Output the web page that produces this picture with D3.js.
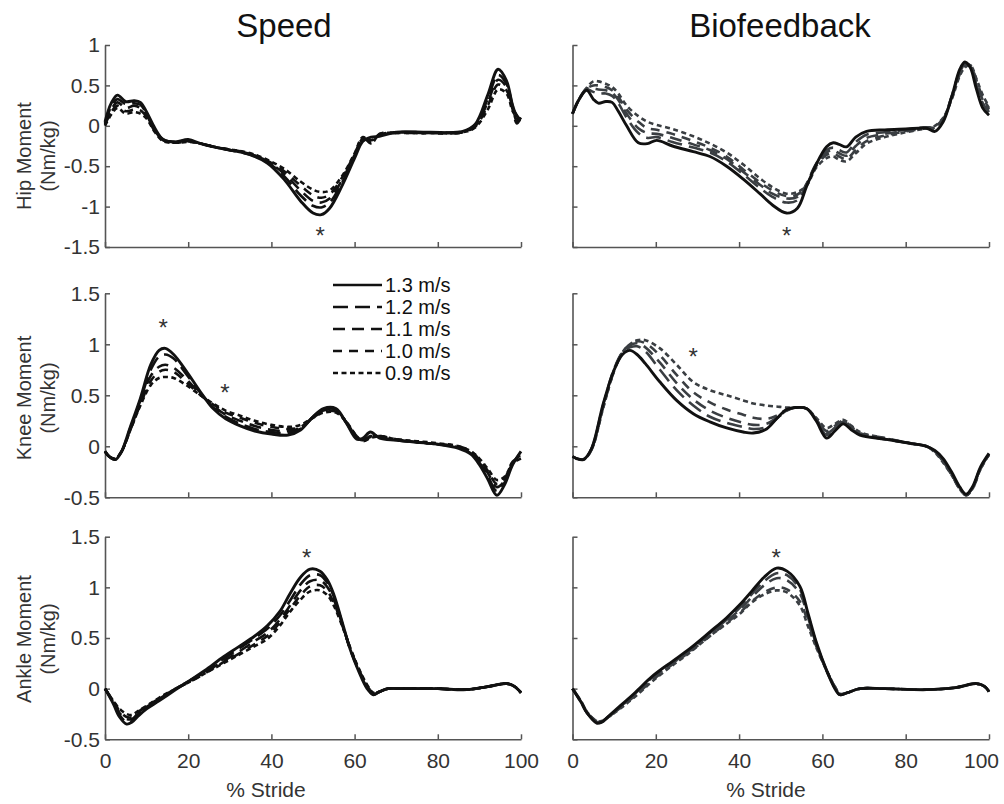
<!DOCTYPE html>
<html><head><meta charset="utf-8">
<script src="https://cdn.jsdelivr.net/npm/d3@7"></script>
<style>body{margin:0;background:#fff} svg{display:block} text{font-family:"Liberation Sans",Arial,sans-serif}</style>
</head><body><svg id="chart" width="1004" height="804"></svg>
<script>
// ---------- DATA ----------
const seriesLabels = ["1.3 m/s","1.2 m/s","1.1 m/s","1.0 m/s","0.9 m/s"];
const columnTitles = ["Speed","Biofeedback"];
const rowLabels = ["Hip Moment","Knee Moment","Ankle Moment"];
const unitLabel = "(Nm/kg)";
const xLabel = "% Stride";
const xTicks = [0,20,40,60,80,100];
const hipTicks = [-1.5,-1,-0.5,0,0.5,1];
const kneeTicks = [-0.5,0,0.5,1,1.5];
const ankleTicks = [-0.5,0,0.5,1,1.5];

// Hip – Speed
const hipSpeedX = [0,1.5,3,5,7,8.5,10,12,14,17,20,23,27,31,35,39,43,47,50,52,54,57,60,62,64,66,70,78,86,89,92,94.5,96.5,98,99,100];
const hipSpeed13 = [0.05,0.28,0.38,0.30,0.31,0.29,0.17,-0.03,-0.17,-0.20,-0.17,-0.22,-0.27,-0.31,-0.36,-0.46,-0.66,-0.93,-1.08,-1.10,-1.02,-0.74,-0.40,-0.19,-0.14,-0.13,-0.08,-0.08,-0.07,0.02,0.38,0.70,0.56,0.25,0.12,0.08];
const hipSpeed12 = [0.03,0.24,0.33,0.27,0.28,0.26,0.15,-0.05,-0.17,-0.20,-0.18,-0.22,-0.27,-0.31,-0.36,-0.45,-0.62,-0.86,-0.99,-1.01,-0.95,-0.70,-0.38,-0.17,-0.18,-0.12,-0.08,-0.08,-0.07,0.01,0.33,0.63,0.52,0.24,0.06,0.10];
const hipSpeed11 = [0.02,0.20,0.29,0.22,0.25,0.22,0.13,-0.06,-0.18,-0.20,-0.19,-0.22,-0.27,-0.31,-0.35,-0.44,-0.59,-0.80,-0.93,-0.95,-0.90,-0.67,-0.36,-0.16,-0.20,-0.11,-0.08,-0.09,-0.08,0.00,0.29,0.57,0.48,0.22,0.13,0.05];
const hipSpeed10 = [0.01,0.17,0.25,0.18,0.20,0.19,0.11,-0.07,-0.18,-0.21,-0.19,-0.22,-0.27,-0.30,-0.35,-0.43,-0.56,-0.74,-0.86,-0.89,-0.85,-0.64,-0.35,-0.15,-0.21,-0.10,-0.09,-0.09,-0.08,-0.01,0.25,0.51,0.44,0.20,0.03,0.10];
const hipSpeed09 = [0.00,0.14,0.22,0.15,0.17,0.15,0.09,-0.08,-0.19,-0.21,-0.20,-0.22,-0.27,-0.30,-0.34,-0.42,-0.53,-0.69,-0.79,-0.82,-0.80,-0.62,-0.34,-0.14,-0.22,-0.10,-0.09,-0.09,-0.08,-0.02,0.20,0.45,0.40,0.18,0.10,0.04];

// Hip – Biofeedback
const hipBioX = [0,1.5,3.4,5,6.2,8,9.5,11,13,15.8,18,20.2,24,29,33,37,41,45,48,51.4,54,56.2,58.5,61,62.6,64,65.8,68,70.6,75,80,85,87,89,91,93,94.2,95.5,97,98.5,100];
const hipBio13 = [0.15,0.32,0.44,0.33,0.28,0.30,0.29,0.18,0.00,-0.21,-0.22,-0.18,-0.25,-0.32,-0.38,-0.50,-0.66,-0.84,-0.98,-1.08,-1.02,-0.75,-0.48,-0.26,-0.21,-0.23,-0.26,-0.14,-0.07,-0.05,-0.04,-0.03,-0.07,0.05,0.35,0.70,0.79,0.72,0.45,0.22,0.13];
const hipBio12 = [0.15,0.32,0.45,0.42,0.40,0.40,0.37,0.28,0.10,-0.09,-0.15,-0.14,-0.20,-0.27,-0.33,-0.44,-0.60,-0.77,-0.88,-0.95,-0.92,-0.72,-0.47,-0.30,-0.27,-0.30,-0.33,-0.20,-0.11,-0.08,-0.05,-0.02,-0.04,0.07,0.36,0.68,0.77,0.74,0.50,0.28,0.17];
const hipBio11 = [0.15,0.32,0.46,0.46,0.45,0.44,0.41,0.32,0.15,-0.03,-0.09,-0.10,-0.15,-0.23,-0.30,-0.41,-0.57,-0.73,-0.84,-0.90,-0.88,-0.72,-0.48,-0.33,-0.30,-0.34,-0.37,-0.25,-0.15,-0.10,-0.06,-0.02,-0.02,0.08,0.35,0.66,0.76,0.75,0.53,0.32,0.20];
const hipBio10 = [0.15,0.32,0.46,0.50,0.50,0.48,0.44,0.36,0.20,0.05,-0.03,-0.05,-0.10,-0.19,-0.27,-0.38,-0.54,-0.70,-0.80,-0.87,-0.85,-0.73,-0.50,-0.36,-0.34,-0.38,-0.41,-0.30,-0.19,-0.12,-0.07,-0.03,-0.01,0.09,0.33,0.64,0.74,0.75,0.56,0.35,0.22];
const hipBio09 = [0.15,0.32,0.47,0.55,0.55,0.52,0.48,0.40,0.25,0.12,0.05,0.01,-0.04,-0.13,-0.22,-0.33,-0.48,-0.65,-0.76,-0.84,-0.82,-0.74,-0.52,-0.40,-0.38,-0.42,-0.44,-0.34,-0.22,-0.14,-0.08,-0.03,0.00,0.10,0.32,0.62,0.72,0.75,0.58,0.38,0.24];

// Knee – Speed
const kneeSpeedX = [0,1,2.5,4,6,8.5,11,13,14.5,16.5,19.5,23,26,29,32.5,36,40,44,47,50,52.5,55.5,58,60.5,62,63.8,66,70,75,80,85,88,90,92,94.2,96,98,100];
const kneeSpeed13 = [-0.05,-0.10,-0.13,-0.05,0.18,0.47,0.80,0.94,0.96,0.90,0.74,0.53,0.37,0.27,0.20,0.15,0.12,0.11,0.16,0.29,0.37,0.37,0.23,0.07,0.08,0.14,0.08,0.06,0.04,0.02,-0.02,-0.08,-0.18,-0.32,-0.48,-0.38,-0.18,-0.05];
const kneeSpeed12 = [-0.05,-0.10,-0.13,-0.05,0.17,0.45,0.75,0.88,0.90,0.86,0.71,0.52,0.38,0.29,0.22,0.17,0.14,0.13,0.17,0.29,0.36,0.36,0.23,0.08,0.07,0.12,0.09,0.06,0.04,0.02,-0.01,-0.07,-0.16,-0.29,-0.44,-0.36,-0.17,-0.06];
const kneeSpeed11 = [-0.05,-0.10,-0.12,-0.05,0.16,0.43,0.69,0.78,0.80,0.77,0.66,0.51,0.40,0.31,0.25,0.20,0.16,0.15,0.18,0.28,0.35,0.35,0.24,0.09,0.06,0.10,0.09,0.06,0.04,0.02,-0.01,-0.06,-0.14,-0.26,-0.40,-0.34,-0.17,-0.12];
const kneeSpeed10 = [-0.05,-0.10,-0.12,-0.05,0.15,0.41,0.64,0.73,0.75,0.73,0.63,0.50,0.41,0.33,0.28,0.23,0.19,0.17,0.19,0.28,0.34,0.34,0.24,0.10,0.05,0.09,0.10,0.07,0.04,0.02,0.00,-0.05,-0.13,-0.24,-0.37,-0.32,-0.15,-0.10];
const kneeSpeed09 = [-0.05,-0.10,-0.12,-0.05,0.15,0.40,0.60,0.67,0.68,0.67,0.60,0.50,0.42,0.35,0.30,0.25,0.21,0.19,0.21,0.28,0.33,0.33,0.24,0.10,0.05,0.08,0.10,0.07,0.05,0.03,0.00,-0.05,-0.12,-0.22,-0.33,-0.30,-0.16,-0.08];

// Knee – Biofeedback
const kneeBioX = [0,1,2.6,4.5,7.4,10,12,13.8,15.5,17.5,21,25,29,33,37,41,43.4,46.6,49,51.4,53.5,56.2,58.5,61,63,65,67,69,75,81,85,87,89,91,93,94.5,96,98,100];
const kneeBio13 = [-0.10,-0.12,-0.13,-0.03,0.42,0.75,0.90,0.94,0.90,0.81,0.63,0.45,0.32,0.24,0.18,0.14,0.13,0.17,0.27,0.36,0.38,0.37,0.25,0.08,0.15,0.22,0.16,0.11,0.07,0.03,0.00,-0.04,-0.12,-0.25,-0.40,-0.47,-0.40,-0.20,-0.07];
const kneeBio12 = [-0.10,-0.12,-0.13,-0.03,0.41,0.76,0.92,0.97,0.98,0.93,0.75,0.55,0.40,0.29,0.23,0.19,0.17,0.19,0.27,0.35,0.38,0.37,0.26,0.11,0.17,0.23,0.17,0.12,0.07,0.03,0.00,-0.05,-0.14,-0.27,-0.41,-0.47,-0.41,-0.21,-0.08];
const kneeBio11 = [-0.10,-0.12,-0.13,-0.03,0.40,0.75,0.92,0.99,1.01,0.97,0.82,0.62,0.46,0.35,0.28,0.23,0.21,0.22,0.28,0.35,0.38,0.37,0.27,0.13,0.18,0.24,0.18,0.12,0.07,0.03,0.00,-0.05,-0.15,-0.27,-0.41,-0.48,-0.41,-0.21,-0.08];
const kneeBio10 = [-0.10,-0.12,-0.13,-0.04,0.39,0.74,0.92,1.00,1.03,1.01,0.89,0.70,0.53,0.43,0.36,0.31,0.28,0.27,0.30,0.36,0.38,0.37,0.27,0.15,0.20,0.25,0.19,0.13,0.08,0.03,0.00,-0.05,-0.15,-0.28,-0.42,-0.48,-0.42,-0.22,-0.08];
const kneeBio09 = [-0.10,-0.12,-0.13,-0.04,0.38,0.74,0.92,1.00,1.04,1.04,0.96,0.80,0.63,0.55,0.50,0.45,0.42,0.40,0.39,0.38,0.38,0.37,0.28,0.18,0.22,0.26,0.20,0.14,0.08,0.03,0.00,-0.06,-0.16,-0.28,-0.42,-0.48,-0.42,-0.22,-0.08];

// Ankle – Speed
const ankleSpeedX = [0,2,3.5,5.2,6.5,8,10,13,17,20,24,28,32,36,39,42,44.5,47,49.3,51.7,53.5,55,57,59,61,63,64.5,66,68,72,80,87,92,96.6,98.5,100];
const ankleSpeed13 = [0.00,-0.15,-0.28,-0.35,-0.33,-0.27,-0.20,-0.12,-0.01,0.07,0.18,0.30,0.41,0.52,0.62,0.76,0.94,1.10,1.18,1.16,1.07,0.93,0.66,0.38,0.17,0.00,-0.06,-0.03,0.00,0.00,0.00,-0.01,0.02,0.05,0.02,-0.04];
const ankleSpeed12 = [0.00,-0.14,-0.26,-0.33,-0.32,-0.25,-0.19,-0.11,0.00,0.07,0.17,0.28,0.39,0.50,0.59,0.72,0.87,1.03,1.12,1.12,1.04,0.91,0.65,0.38,0.18,0.01,-0.06,-0.03,0.00,0.00,0.00,-0.01,0.02,0.05,0.02,-0.04];
const ankleSpeed11 = [0.00,-0.13,-0.24,-0.30,-0.30,-0.24,-0.18,-0.10,0.00,0.07,0.16,0.26,0.36,0.47,0.55,0.68,0.82,0.97,1.06,1.07,1.00,0.88,0.64,0.39,0.19,0.02,-0.05,-0.03,0.00,0.00,0.00,-0.01,0.02,0.05,0.02,-0.04];
const ankleSpeed10 = [0.00,-0.12,-0.22,-0.28,-0.28,-0.23,-0.17,-0.10,0.00,0.06,0.15,0.25,0.34,0.44,0.52,0.65,0.79,0.92,1.01,1.02,0.96,0.85,0.63,0.39,0.19,0.03,-0.04,-0.03,0.00,0.00,0.00,-0.01,0.02,0.05,0.02,-0.04];
const ankleSpeed09 = [0.00,-0.12,-0.20,-0.25,-0.26,-0.22,-0.17,-0.09,0.00,0.06,0.15,0.24,0.33,0.42,0.49,0.62,0.76,0.88,0.96,0.97,0.92,0.82,0.62,0.40,0.20,0.04,-0.04,-0.03,0.00,0.00,0.00,-0.01,0.02,0.05,0.02,-0.04];

// Ankle – Biofeedback
const ankleBioX = [0,2,3.5,5.8,7,9,12,15,19.4,24,28,33,37,40.2,43,46,49,51.5,54.6,56.5,58.6,61,63,64.2,66,69,75,85,92,97,99,100];
const ankleBio13 = [0.00,-0.13,-0.24,-0.34,-0.33,-0.26,-0.15,-0.04,0.13,0.27,0.39,0.56,0.70,0.83,0.96,1.10,1.19,1.16,1.01,0.75,0.45,0.18,0.00,-0.06,-0.04,0.00,0.00,-0.01,0.01,0.05,0.02,-0.03];
const ankleBio12 = [0.00,-0.13,-0.24,-0.33,-0.33,-0.26,-0.16,-0.05,0.12,0.26,0.38,0.55,0.68,0.80,0.93,1.06,1.14,1.12,0.98,0.73,0.44,0.18,0.01,-0.06,-0.04,0.00,0.00,-0.01,0.01,0.05,0.02,-0.03];
const ankleBio11 = [0.00,-0.13,-0.24,-0.33,-0.33,-0.27,-0.16,-0.06,0.11,0.25,0.37,0.54,0.67,0.78,0.90,1.02,1.09,1.07,0.94,0.71,0.43,0.18,0.01,-0.06,-0.04,0.00,0.00,-0.01,0.01,0.05,0.02,-0.03];
const ankleBio10 = [0.00,-0.12,-0.23,-0.32,-0.32,-0.27,-0.17,-0.07,0.09,0.24,0.36,0.52,0.65,0.75,0.86,0.95,1.00,0.98,0.86,0.66,0.41,0.18,0.02,-0.05,-0.04,0.00,0.00,-0.01,0.01,0.05,0.02,-0.03];
const ankleBio09 = [0.00,-0.12,-0.23,-0.32,-0.32,-0.27,-0.18,-0.08,0.08,0.23,0.35,0.52,0.64,0.74,0.85,0.93,0.97,0.95,0.82,0.62,0.40,0.18,0.02,-0.05,-0.04,0.00,0.00,-0.01,0.01,0.05,0.02,-0.03];

// significance markers (row, col, % stride, value)
const starRow = [0,0,1,1,1,2,2];
const starCol = [0,1,0,0,1,0,1];
const starX   = [51.7,51.4,14.0,28.8,29.0,48.5,48.9];
const starY   = [-1.29,-1.29,1.22,0.58,0.93,1.35,1.35];

// ---------- LAYOUT ----------
const colRange = [[105,521],[572.5,989]];
const rowRange = [[247,45],[497.3,293.3],[739.3,536.7]];
const rowDomain = [[-1.5,1],[-0.5,1.5],[-0.5,1.5]];
const rowTicks = [hipTicks,kneeTicks,ankleTicks];
const dashes = [null,"15,7","12,7","9,7","5,3.5"];
const FONT = '"Liberation Sans",Arial,sans-serif';

const panels = [
  {row:0,col:0,x:hipSpeedX,s:[hipSpeed13,hipSpeed12,hipSpeed11,hipSpeed10,hipSpeed09]},
  {row:0,col:1,x:hipBioX,s:[hipBio13,hipBio12,hipBio11,hipBio10,hipBio09]},
  {row:1,col:0,x:kneeSpeedX,s:[kneeSpeed13,kneeSpeed12,kneeSpeed11,kneeSpeed10,kneeSpeed09]},
  {row:1,col:1,x:kneeBioX,s:[kneeBio13,kneeBio12,kneeBio11,kneeBio10,kneeBio09]},
  {row:2,col:0,x:ankleSpeedX,s:[ankleSpeed13,ankleSpeed12,ankleSpeed11,ankleSpeed10,ankleSpeed09]},
  {row:2,col:1,x:ankleBioX,s:[ankleBio13,ankleBio12,ankleBio11,ankleBio10,ankleBio09]}
];

const svg = d3.select("#chart");
const xs = colRange.map(r => d3.scaleLinear().domain([0,100]).range(r));
const ys = rowRange.map((r,i) => d3.scaleLinear().domain(rowDomain[i]).range(r));

// axes
for (let r=0;r<3;r++) for (let c=0;c<2;c++) {
  const gx = svg.append("g").attr("transform",`translate(0,${rowRange[r][0]})`)
    .call(d3.axisBottom(xs[c]).tickValues(xTicks).tickSizeInner(-5).tickSizeOuter(0).tickPadding(14)
      .tickFormat(r===2 ? d=>String(d) : ()=>""));
  const gy = svg.append("g").attr("transform",`translate(${colRange[c][0]},0)`)
    .call(d3.axisLeft(ys[r]).tickValues(rowTicks[r]).tickSizeInner(-5).tickSizeOuter(0).tickPadding(5)
      .tickFormat(c===0 ? d=>String(d) : ()=>""));
  [gx,gy].forEach(g=>{
    g.select(".domain").attr("stroke","#555").attr("stroke-width",1.6);
    g.selectAll(".tick line").attr("stroke","#555").attr("stroke-width",1.5);
    g.selectAll(".tick text").attr("fill","#333").style("font-size","21px").style("font-family",FONT);
  });
  // keep the last label of the right-hand panel inside the picture
  if (r===2 && c===1) gx.selectAll(".tick text").filter(d=>d===100).attr("x",-8);
}

// curves
panels.forEach(p=>{
  const X = xs[p.col], Y = ys[p.row];
  const line = d3.line().x(d=>X(d[0])).y(d=>Y(d[1])).curve(d3.curveCatmullRom.alpha(0.5));
  for (let k=4;k>=0;k--) {
    const pts = p.x.map((v,j)=>[v,p.s[k][j]]);
    svg.append("path").datum(pts).attr("d",line)
      .attr("fill","none")
      .attr("stroke", (p.col===1 && k>0) ? "#3a3e42" : "#111")
      .attr("stroke-width", k===0 ? 2.9 : 2.6)
      .attr("stroke-dasharray", dashes[k])
      .attr("stroke-linejoin","round");
  }
});

// significance stars
starX.forEach((v,i)=>{
  svg.append("text").attr("x",xs[starCol[i]](v)).attr("y",ys[starRow[i]](starY[i]))
    .attr("dy","0.58em").attr("text-anchor","middle").attr("fill","#333")
    .style("font-size","24px").text("*");
});

// titles
const titleX = [284,780];
columnTitles.forEach((t,i)=>{
  svg.append("text").attr("x",titleX[i]).attr("y",37).attr("text-anchor","middle")
    .attr("fill","#111").style("font-size","33px").text(t);
});

// y labels
const ylabCenter = [156,398,639];
rowLabels.forEach((t,i)=>{
  svg.append("text").attr("transform",`translate(31,${ylabCenter[i]}) rotate(-90)`)
    .attr("text-anchor","middle").attr("fill","#333").style("font-size","20px").text(t);
  svg.append("text").attr("transform",`translate(55,${ylabCenter[i]}) rotate(-90)`)
    .attr("text-anchor","middle").attr("fill","#333").style("font-size","20px").text(unitLabel);
});

// x labels
[266,766].forEach(x=>{
  svg.append("text").attr("x",x).attr("y",797).attr("text-anchor","middle")
    .attr("fill","#333").style("font-size","21px").text(xLabel);
});

// legend
seriesLabels.forEach((t,i)=>{
  const y = 285 + i*22;
  svg.append("line").attr("x1",333).attr("x2",382).attr("y1",y).attr("y2",y)
    .attr("stroke","#111").attr("stroke-width",2.6).attr("stroke-dasharray",dashes[i]);
  svg.append("text").attr("x",385).attr("y",y).attr("dy","0.36em").attr("fill","#111")
    .style("font-size","20px").text(t);
});
</script></body></html>
